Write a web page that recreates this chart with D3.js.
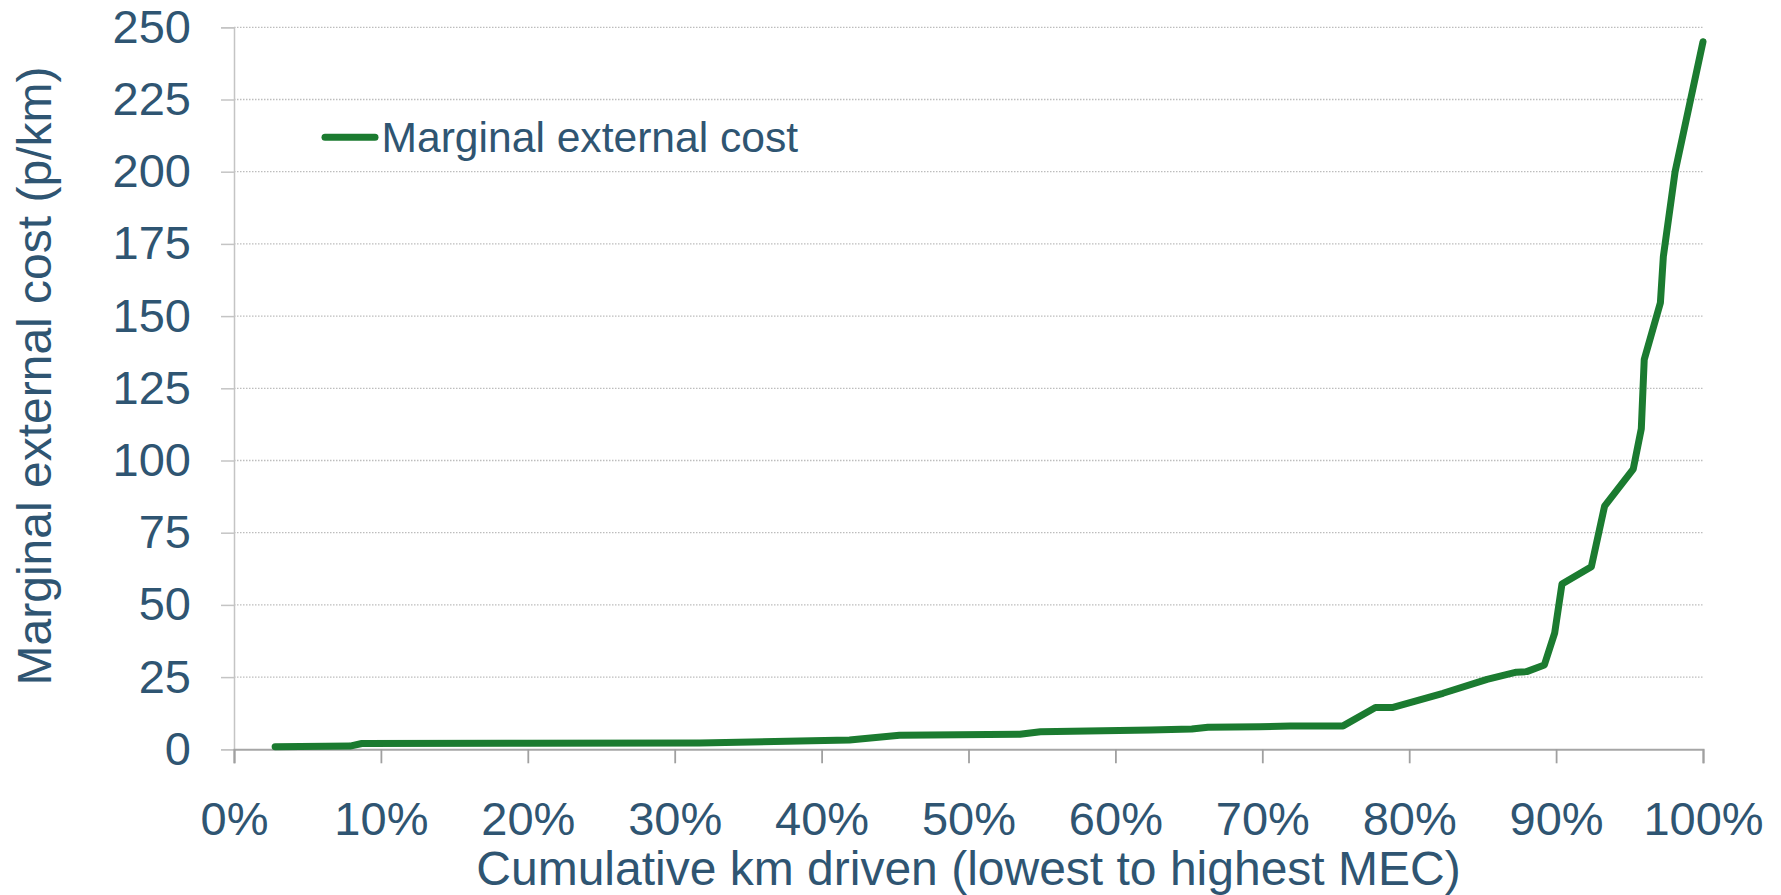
<!DOCTYPE html>
<html>
<head>
<meta charset="utf-8">
<script src="https://cdn.jsdelivr.net/npm/d3@7"></script>
<style>
  html, body { margin: 0; padding: 0; background: #fff; }
  svg { display: block; }
  text { font-family: "Liberation Sans", Arial, sans-serif; fill: #2f5572; }
</style>
</head>
<body>
<svg id="chart" width="1781" height="895"></svg>
<script>
// Data
const cumulativeKmPct = [2.8, 7.9, 8.7, 20, 31.7, 41.9, 45.3, 53.5, 54.9, 62.4, 65.2, 66.3, 69.8, 71.9, 75.5, 77.7, 78.9, 82.3, 85.3, 87.3, 88.0, 89.2, 89.9, 90.4, 92.4, 93.3, 95.25, 95.8, 96.0, 97.1, 97.3, 98.1, 100];
const mecValues = [0.9, 1.1, 2.0, 2.1, 2.2, 3.2, 4.9, 5.2, 6.1, 6.7, 7.0, 7.6, 7.8, 8.1, 8.1, 14.5, 14.5, 19.4, 24.2, 26.7, 26.9, 29.2, 40.2, 57.2, 63.2, 84.2, 97, 111, 135, 154.6, 170.6, 200, 245];
const yTicks = [0, 25, 50, 75, 100, 125, 150, 175, 200, 225, 250];
const xTicks = [0, 10, 20, 30, 40, 50, 60, 70, 80, 90, 100];
const seriesName = "Marginal external cost";
const xTitle = "Cumulative km driven (lowest to highest MEC)";
const yTitle = "Marginal external cost (p/km)";

const svg = d3.select("#chart");
const plotL = 234, plotR = 1703, plotT = 27.3, plotB = 749.3;

const x = d3.scaleLinear().domain([0, 100]).range([plotL, plotR]);
const y = d3.scaleLinear().domain([0, 250]).range([plotB, plotT]);

// gridlines
svg.append("g")
  .selectAll("line")
  .data(yTicks.filter(d => d > 0))
  .join("line")
  .attr("x1", plotL).attr("x2", plotR)
  .attr("y1", d => y(d)).attr("y2", d => y(d))
  .attr("stroke", "#bdbdbd")
  .attr("stroke-width", 1.3)
  .attr("stroke-dasharray", "1.5 1.5");

// y axis
const yAxis = svg.append("g")
  .attr("transform", `translate(${plotL},0)`)
  .call(d3.axisLeft(y).tickValues(yTicks).tickSize(13).tickPadding(30).tickFormat(d3.format("d")));
yAxis.select(".domain").attr("stroke", "#c4c4c4").attr("stroke-width", 1.5);
yAxis.selectAll(".tick line").attr("stroke", "#c4c4c4").attr("stroke-width", 1.5);
yAxis.selectAll(".tick text")
  .attr("font-size", 47)
  .attr("font-family", '"Liberation Sans", Arial, sans-serif')
  .attr("fill", "#2f5572");

// x axis
const xAxis = svg.append("g")
  .attr("transform", `translate(0,${plotB})`)
  .call(d3.axisBottom(x).tickValues(xTicks).tickSize(14).tickPadding(38).tickFormat(d => d + "%"));
xAxis.select(".domain").attr("stroke", "#a6a6a6").attr("stroke-width", 2);
xAxis.selectAll(".tick line").attr("stroke", "#a0a0a0").attr("stroke-width", 1.8);
xAxis.selectAll(".tick text")
  .attr("font-size", 47)
  .attr("font-family", '"Liberation Sans", Arial, sans-serif')
  .attr("fill", "#2f5572");

// line
const line = d3.line()
  .x((d, i) => x(cumulativeKmPct[i]))
  .y(d => y(d));
svg.append("path")
  .datum(mecValues)
  .attr("fill", "none")
  .attr("stroke", "#1b7b30")
  .attr("stroke-width", 7)
  .attr("stroke-linejoin", "round")
  .attr("stroke-linecap", "round")
  .attr("d", line);

// axis titles
svg.append("text")
  .attr("x", (plotL + plotR) / 2)
  .attr("y", 885)
  .attr("text-anchor", "middle")
  .attr("font-size", 48)
  .text(xTitle);

svg.append("text")
  .attr("transform", `translate(51,376) rotate(-90)`)
  .attr("text-anchor", "middle")
  .attr("font-size", 48)
  .text(yTitle);

// legend
svg.append("line")
  .attr("x1", 325).attr("x2", 375)
  .attr("y1", 137.3).attr("y2", 137.3)
  .attr("stroke", "#1b7b30")
  .attr("stroke-width", 7)
  .attr("stroke-linecap", "round");
svg.append("text")
  .attr("x", 381.5)
  .attr("y", 137.3)
  .attr("dy", "0.35em")
  .attr("font-size", 42.6)
  .text(seriesName);
</script>
</body>
</html>
